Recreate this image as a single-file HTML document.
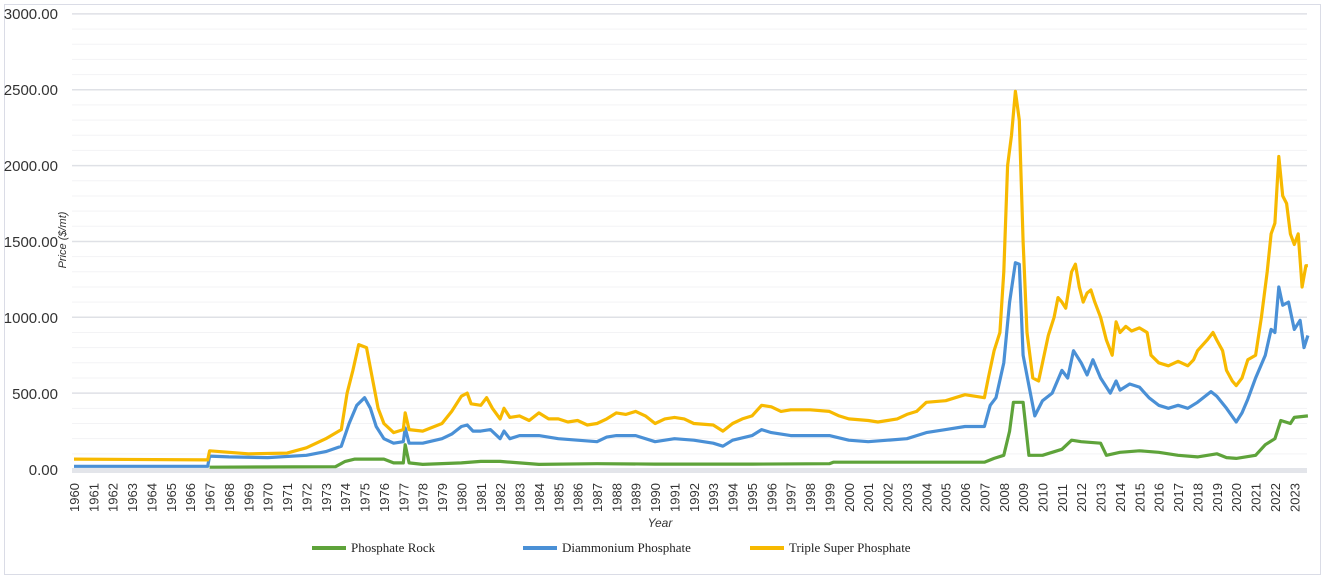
<!DOCTYPE html>
<html><head><meta charset="utf-8"><style>
body{margin:0;background:#fff;}
svg{display:block;font-family:"Liberation Sans",sans-serif;}
</style></head><body>
<svg id="c" width="1325" height="579" xmlns="http://www.w3.org/2000/svg">
<rect x="4.5" y="4.5" width="1316" height="570" fill="#fff" stroke="#dadce6" stroke-width="1"/>
<g id="grid"></g>
<rect x="72" y="468" width="1235" height="5" fill="#e3e5ea"/>
<g font-size="15" fill="#333" text-anchor="end">
<text x="58" y="19">3000.00</text><text x="58" y="95">2500.00</text><text x="58" y="171">2000.00</text>
<text x="58" y="247">1500.00</text><text x="58" y="323">1000.00</text><text x="58" y="399">500.00</text><text x="58" y="475">0.00</text>
</g>
<text transform="translate(66,240) rotate(-90)" font-size="11" font-style="italic" fill="#333" text-anchor="middle">Price ($/mt)</text>
<g id="xl" font-size="13" fill="#333"></g>
<text x="660" y="527" font-size="12" font-style="italic" fill="#333" text-anchor="middle">Year</text>
<g id="series" fill="none" stroke-width="3.2" stroke-linejoin="round"></g>
<g font-family="Liberation Serif,serif" font-size="13" fill="#222">
<line x1="312" y1="548" x2="346" y2="548" stroke="#5ea33a" stroke-width="4"/><text x="351" y="552">Phosphate Rock</text>
<line x1="523" y1="548" x2="557" y2="548" stroke="#4a90d6" stroke-width="4"/><text x="562" y="552">Diammonium Phosphate</text>
<line x1="750" y1="548" x2="784" y2="548" stroke="#f7b900" stroke-width="4"/><text x="789" y="552">Triple Super Phosphate</text>
</g>
</svg>
<script>
const NS="http://www.w3.org/2000/svg";
const X=t=>74+(t-1960)*19.37, Y=v=>469-v*0.1517;
let g=document.getElementById('grid');
for(let v=100;v<=3000;v+=100){let l=document.createElementNS(NS,'line');l.setAttribute('x1',72);l.setAttribute('x2',1307);l.setAttribute('y1',Y(v));l.setAttribute('y2',Y(v));l.setAttribute('stroke',v%500?'#f3f3f5':'#dfe1e6');l.setAttribute('stroke-width',v%500?1:1.5);g.appendChild(l);}
let xl=document.getElementById('xl');
for(let y=1960;y<=2023;y++){let t=document.createElementNS(NS,'text');t.setAttribute('transform',`translate(${X(y)+5},512) rotate(-90)`);t.textContent=y;xl.appendChild(t);}
function P(s){let a=s.trim().split(/[\s,]+/).map(Number),p=[];for(let i=0;i<a.length;i+=2)p.push(X(a[i]).toFixed(1)+','+Y(a[i+1]).toFixed(1));return p.join(' ');}
const yel=`1960 65 1966.9 60 1967 120 1968 110 1969 100 1971 105 1972 140 1973 200 1973.8 260 1974.1 500 1974.4 650 1974.7 820 1975.1 800 1975.4 600 1975.7 400 1976 300 1976.5 240 1977 260 1977.1 370 1977.3 260 1978 250 1979 300 1979.5 380 1980 480 1980.3 500 1980.5 430 1981 420 1981.3 470 1981.6 400 1982 330 1982.2 400 1982.5 340 1983 350 1983.5 320 1984 370 1984.5 330 1985 330 1985.5 310 1986 320 1986.5 290 1987 300 1987.5 330 1988 370 1988.5 360 1989 380 1989.5 350 1990 300 1990.5 330 1991 340 1991.5 330 1992 300 1993 290 1993.5 250 1994 300 1994.5 330 1995 350 1995.5 420 1996 410 1996.5 380 1997 390 1998 390 1999 380 1999.5 350 2000 330 2001 320 2001.5 310 2002 320 2002.5 330 2003 360 2003.5 380 2004 440 2005 450 2005.5 470 2006 490 2006.5 480 2007 470 2007.2 600 2007.5 780 2007.8 900 2008 1300 2008.2 2000 2008.4 2200 2008.6 2490 2008.8 2300 2009 1500 2009.2 900 2009.5 600 2009.8 580 2010 700 2010.3 880 2010.6 1000 2010.8 1130 2011 1100 2011.2 1060 2011.5 1300 2011.7 1350 2011.9 1200 2012.1 1100 2012.3 1160 2012.5 1180 2012.7 1100 2013 1000 2013.3 850 2013.6 750 2013.8 970 2014 900 2014.3 940 2014.6 910 2015 930 2015.4 900 2015.6 750 2016 700 2016.5 680 2017 710 2017.5 680 2017.8 720 2018 780 2018.5 850 2018.8 900 2019 850 2019.3 780 2019.5 650 2019.8 580 2020 550 2020.3 600 2020.6 720 2021 750 2021.3 1000 2021.6 1300 2021.8 1550 2022 1620 2022.2 2060 2022.4 1800 2022.6 1750 2022.8 1550 2023 1480 2023.2 1550 2023.4 1200 2023.6 1340 2023.7 1340`;
const blu=`1960 18 1966.9 18 1967 85 1968 80 1970 75 1972 90 1973 115 1973.8 150 1974.2 300 1974.6 420 1975 470 1975.3 400 1975.6 280 1976 200 1976.5 170 1977 180 1977.1 270 1977.3 170 1978 170 1979 200 1979.5 230 1980 280 1980.3 290 1980.6 250 1981 250 1981.5 260 1982 200 1982.2 250 1982.5 200 1983 220 1984 220 1985 200 1986 190 1987 180 1987.5 210 1988 220 1989 220 1990 180 1991 200 1992 190 1993 170 1993.5 150 1994 190 1995 220 1995.5 260 1996 240 1997 220 1998 220 1999 220 2000 190 2001 180 2002 190 2003 200 2004 240 2005 260 2006 280 2007 280 2007.3 420 2007.6 470 2008 700 2008.3 1100 2008.6 1360 2008.8 1350 2009 750 2009.3 550 2009.6 350 2010 450 2010.5 500 2011 650 2011.3 600 2011.6 780 2012 700 2012.3 620 2012.6 720 2013 600 2013.5 500 2013.8 580 2014 520 2014.5 560 2015 540 2015.5 470 2016 420 2016.5 400 2017 420 2017.5 400 2018 440 2018.7 510 2019 480 2019.5 400 2020 310 2020.3 370 2020.6 460 2021 600 2021.5 750 2021.8 920 2022 900 2022.2 1200 2022.4 1080 2022.7 1100 2023 920 2023.3 980 2023.5 800 2023.7 880`;
const grn=`1967 12 1973.5 15 1974 50 1974.5 65 1976 65 1976.5 40 1977 40 1977.1 160 1977.3 40 1978 30 1980 40 1981 50 1982 50 1983 40 1984 30 1987 35 1990 32 1995 32 1999 35 1999.2 45 2007 45 2007.5 70 2008 90 2008.3 250 2008.5 440 2009 440 2009.3 90 2010 90 2011 130 2011.5 190 2012 180 2013 170 2013.3 90 2014 110 2015 120 2016 110 2017 90 2018 80 2019 100 2019.5 75 2020 70 2021 90 2021.5 160 2022 200 2022.3 320 2022.8 300 2023 340 2023.7 350`;
let s=document.getElementById('series');
[[grn,'#5ea33a'],[blu,'#4a90d6'],[yel,'#f7b900']].forEach(([d,c])=>{let p=document.createElementNS(NS,'polyline');p.setAttribute('points',P(d));p.setAttribute('stroke',c);s.appendChild(p);});
</script>
</body></html>
